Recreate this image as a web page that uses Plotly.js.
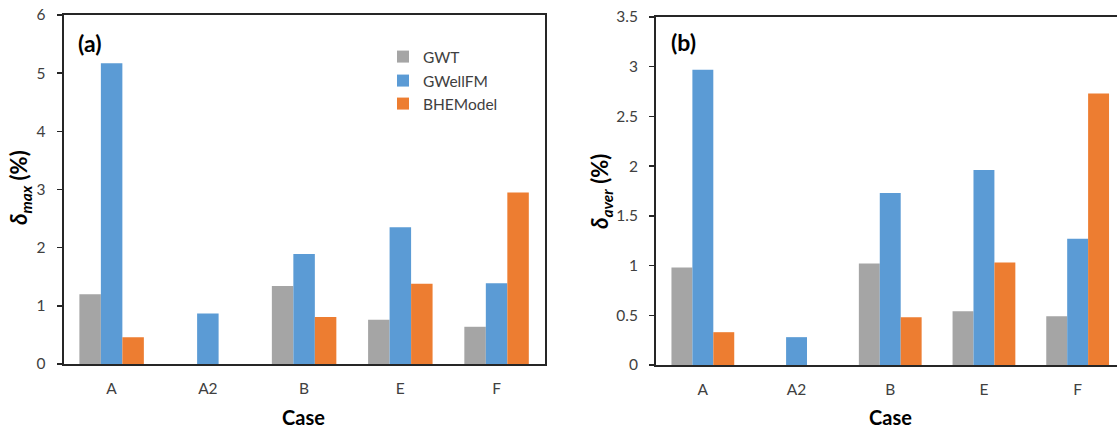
<!DOCTYPE html>
<html>
<head>
<meta charset="utf-8">
<script src="https://cdn.plot.ly/plotly-3.0.1.min.js"></script>
<style>
  html, body { margin: 0; padding: 0; background: #fff; }
  #chart { width: 1117px; height: 429px; }
</style>
</head>
<body>
<div id="chart"></div>
<script>
// Cases on the horizontal axis
const cases = ['A', 'A2', 'B', 'E', 'F'];

// Maximum relative deviation, δmax (%)
const maxGWT      = [1.20, null, 1.34, 0.76, 0.64];
const maxGWellFM  = [5.17, 0.87, 1.89, 2.35, 1.39];
const maxBHEModel = [0.46, null, 0.81, 1.38, 2.95];

// Average relative deviation, δaver (%)
const averGWT      = [0.98, null, 1.02, 0.54, 0.49];
const averGWellFM  = [2.97, 0.28, 1.73, 1.96, 1.27];
const averBHEModel = [0.33, null, 0.48, 1.03, 2.73];

const seriesNames = ['GWT', 'GWellFM', 'BHEModel'];
const colors = ['#A5A5A5', '#5B9BD5', '#ED7D31'];
const legendIds = ['legend', 'legend2', 'legend3'];

const FONT = 'Lato, "Open Sans", sans-serif';

function bars(values, idx, xa, ya, showLegend) {
  return {
    type: 'bar',
    x: cases,
    y: values,
    name: seriesNames[idx],
    legendgroup: seriesNames[idx],
    legend: legendIds[idx],
    showlegend: showLegend,
    xaxis: xa,
    yaxis: ya,
    marker: { color: colors[idx], line: { width: 0 } },
    hoverinfo: 'x+y+name'
  };
}

const traces = [
  bars(maxGWT, 0, 'x', 'y', true),
  bars(maxGWellFM, 1, 'x', 'y', true),
  bars(maxBHEModel, 2, 'x', 'y', true),
  bars(averGWT, 0, 'x2', 'y2', false),
  bars(averGWellFM, 1, 'x2', 'y2', false),
  bars(averBHEModel, 2, 'x2', 'y2', false)
];

const W = 1117, H = 429;
const axisColor = '#262626';
const tickFont = { family: FONT, size: 15.5, color: '#404040' };

// one legend box per series, stacked as a single column
function legendBox(topPx) {
  return {
    x: 383 / W, y: 1 - topPx / H,
    xanchor: 'left', yanchor: 'top',
    bgcolor: 'rgba(0,0,0,0)',
    font: { family: FONT, size: 15.5, color: '#404040' },
    itemclick: false,
    itemdoubleclick: false
  };
}

const xCommon = {
  type: 'category',
  showline: true,
  linecolor: axisColor,
  linewidth: 2,
  ticks: '',
  showgrid: false,
  zeroline: false,
  tickfont: tickFont,
  ticklabelstandoff: 9,
  fixedrange: true
};
const yCommon = {
  showline: true,
  linecolor: axisColor,
  linewidth: 2,
  ticks: 'outside',
  ticklen: 5,
  tickwidth: 1.5,
  tickcolor: axisColor,
  showgrid: false,
  zeroline: false,
  tickfont: tickFont,
  ticklabelstandoff: 8,
  fixedrange: true
};

const layout = {
  width: W,
  height: H,
  margin: { l: 0, r: 0, t: 0, b: 0, pad: 0 },
  paper_bgcolor: '#fff',
  plot_bgcolor: '#fff',
  font: { family: FONT, color: '#000' },
  barmode: 'group',
  bargap: 0.33,
  bargroupgap: 0,
  showlegend: true,
  legend: legendBox(40),
  legend2: legendBox(64),
  legend3: legendBox(87),
  xaxis: Object.assign({}, xCommon, {
    domain: [63.5 / W, 544.7 / W],
    anchor: 'y',
    mirror: true,
    range: [-0.5, 4.5]
  }),
  yaxis: Object.assign({}, yCommon, {
    domain: [65 / H, 414 / H],
    anchor: 'x',
    mirror: true,
    range: [0, 6],
    dtick: 1
  }),
  xaxis2: Object.assign({}, xCommon, {
    domain: [656 / W, 1],
    anchor: 'y2',
    mirror: true,
    range: [-0.5, 4.42]
  }),
  yaxis2: Object.assign({}, yCommon, {
    domain: [64 / H, 412 / H],
    anchor: 'x2',
    range: [0, 3.5],
    dtick: 0.5
  }),
  annotations: [
    { text: '<b>(a)</b>', xref: 'paper', yref: 'paper', x: 76 / W, y: 1 - 43 / H,
      xanchor: 'left', yanchor: 'middle', showarrow: false,
      font: { family: FONT, size: 23, color: '#000' } },
    { text: '<b>(b)</b>', xref: 'paper', yref: 'paper', x: 669 / W, y: 1 - 42 / H,
      xanchor: 'left', yanchor: 'middle', showarrow: false,
      font: { family: FONT, size: 23, color: '#000' } },
    { text: '<b>Case</b>', xref: 'paper', yref: 'paper', x: 304 / W, y: 1 - 417 / H,
      xanchor: 'center', yanchor: 'middle', showarrow: false,
      font: { family: FONT, size: 20, color: '#000' } },
    { text: '<b>Case</b>', xref: 'paper', yref: 'paper', x: 890 / W, y: 1 - 417 / H,
      xanchor: 'center', yanchor: 'middle', showarrow: false,
      font: { family: FONT, size: 20, color: '#000' } },
    { text: '<b><i>δ<sub>max</sub></i> (%)</b>', xref: 'paper', yref: 'paper',
      x: 20 / W, y: 1 - 188 / H, textangle: -90,
      xanchor: 'center', yanchor: 'middle', showarrow: false,
      font: { family: FONT, size: 22, color: '#000' } },
    { text: '<b><i>δ<sub>aver</sub></i> (%)</b>', xref: 'paper', yref: 'paper',
      x: 601 / W, y: 1 - 192 / H, textangle: -90,
      xanchor: 'center', yanchor: 'middle', showarrow: false,
      font: { family: FONT, size: 22, color: '#000' } }
  ]
};

Plotly.newPlot('chart', traces, layout, { displayModeBar: false, staticPlot: true });
</script>
</body>
</html>
